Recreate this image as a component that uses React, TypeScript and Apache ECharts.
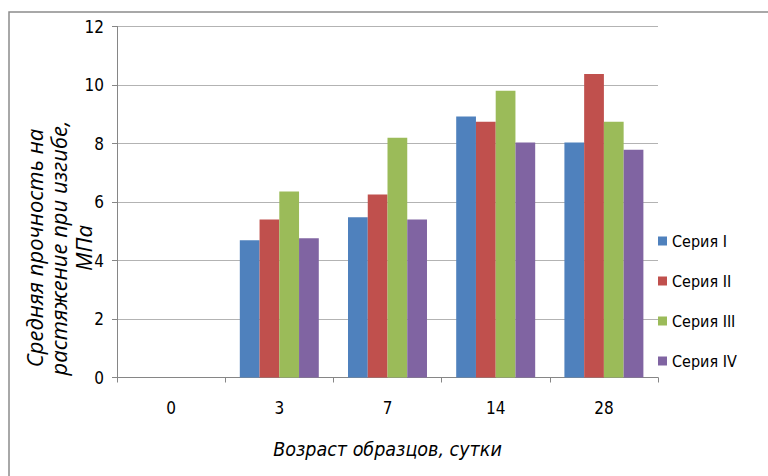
import React, { useEffect, useRef } from "react";
import * as echarts from "echarts";

const categories = ["0", "3", "7", "14", "28"];
const seriesNames = ["Серия I", "Серия II", "Серия III", "Серия IV"];
const seriesI = [0, 4.69, 5.48, 8.92, 8.03];
const seriesII = [0, 5.4, 6.26, 8.74, 10.38];
const seriesIII = [0, 6.36, 8.2, 9.8, 8.74];
const seriesIV = [0, 4.76, 5.4, 8.03, 7.79];
const colors = ["#4F81BD", "#C0504D", "#9BBB59", "#8064A2"];
const yAxisTitle = "Средняя прочность на\nрастяжение при изгибе,\nМПа";
const xAxisTitle = "Возраст образцов, сутки";

const NARROW = '"Liberation Sans Narrow", "DejaVu Sans Condensed", "Roboto Condensed", "Liberation Sans", sans-serif';

export default function App() {
  const ref = useRef<HTMLDivElement>(null);
  useEffect(() => {
    if (!ref.current) return;
    const chart = echarts.init(ref.current, undefined, { renderer: "svg" });
    const data = [seriesI, seriesII, seriesIII, seriesIV];
    chart.setOption({
      animation: false,
      backgroundColor: "#ffffff",
      color: colors,
      grid: { left: 117, right: 110, top: 26.5, bottom: 98.5, containLabel: false },
      legend: {
        orient: "vertical",
        left: 653,
        top: 228,
        itemWidth: 9,
        itemHeight: 9,
        itemGap: 24,
        icon: "rect",
        data: seriesNames,
        textStyle: { fontFamily: NARROW, fontSize: 16, color: "#000" },
      },
      xAxis: {
        type: "category",
        data: categories,
        axisLine: { lineStyle: { color: "#868686", width: 1 } },
        axisTick: { show: true, length: 5, lineStyle: { color: "#868686" } },
        axisLabel: { fontFamily: NARROW, fontSize: 17, color: "#000", margin: 22 },
        name: xAxisTitle,
        nameLocation: "middle",
        nameGap: 62,
        nameTextStyle: { fontFamily: NARROW, fontSize: 19.5, fontStyle: "italic", color: "#000" },
      },
      yAxis: {
        type: "value",
        min: 0,
        max: 12,
        interval: 2,
        axisLine: { show: true, lineStyle: { color: "#868686", width: 1 } },
        axisTick: { show: true, length: 5, lineStyle: { color: "#868686" } },
        splitLine: { lineStyle: { color: "#b3b3b3", width: 1 } },
        axisLabel: { fontFamily: NARROW, fontSize: 17, color: "#000", margin: 13 },
      },
      graphic: [
        {
          type: "rect",
          z: -10,
          shape: { x: 9, y: 12, width: 800, height: 500 },
          style: { fill: "none", stroke: "#8c8c8c", lineWidth: 1.5 },
        },
        {
          type: "text",
          x: 58,
          y: 248,
          rotation: Math.PI / 2,
          style: {
            text: yAxisTitle,
            fontFamily: '"Open Sans", "Liberation Sans", sans-serif',
            fontSize: 22,
            fontStyle: "italic",
            lineHeight: 24.5,
            fill: "#000",
            align: "center",
            verticalAlign: "middle",
          },
        },
      ],
      series: data.map((d, i) => ({
        name: seriesNames[i],
        type: "bar",
        data: d,
        barGap: "0%",
        barCategoryGap: "27%",
        itemStyle: { color: colors[i] },
      })),
    });
    return () => chart.dispose();
  }, []);
  return <div ref={ref} style={{ position: "fixed", left: 0, top: 0, width: 768, height: 476 }} />;
}
